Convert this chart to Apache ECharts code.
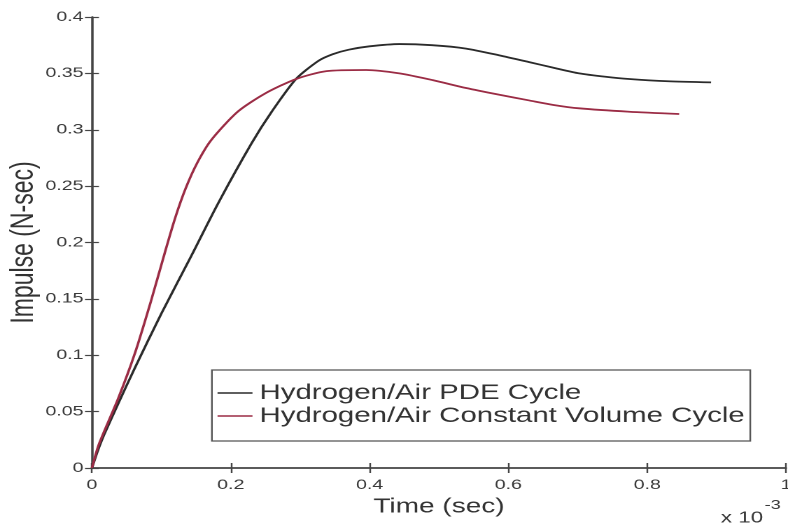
<!DOCTYPE html>
<html>
<head>
<meta charset="utf-8">
<script src="https://cdn.jsdelivr.net/npm/echarts@6/dist/echarts.min.js"></script>
<style>
  html, body { margin: 0; padding: 0; background: #ffffff; overflow: hidden; }
  #wrap { width: 788px; height: 527px; overflow: hidden; }
  #chart { width: 563px; height: 527px; transform: scaleX(1.3996); transform-origin: 0 0; }
</style>
</head>
<body>
<div id="wrap"><div id="chart"></div></div>
<script>
// Time in units of 1e-3 sec (axis multiplier shown as "x 10^-3")
const pdeTime    = [0, 0.010, 0.020, 0.040, 0.062, 0.100, 0.143, 0.182, 0.230, 0.259, 0.294, 0.326, 0.347, 0.370, 0.400, 0.443, 0.490, 0.539, 0.587, 0.630, 0.665, 0.702, 0.740, 0.774, 0.830, 0.892];
const pdeImpulse = [0, 0.018, 0.033, 0.060, 0.089, 0.137, 0.188, 0.235, 0.288, 0.316, 0.345, 0.361, 0.367, 0.371, 0.374, 0.376, 0.375, 0.372, 0.366, 0.360, 0.355, 0.350, 0.347, 0.345, 0.343, 0.342];

const cvTime     = [0, 0.010, 0.038, 0.062, 0.085, 0.105, 0.120, 0.135, 0.152, 0.172, 0.210, 0.249, 0.294, 0.338, 0.395, 0.443, 0.491, 0.539, 0.587, 0.630, 0.665, 0.702, 0.774, 0.846];
const cvImpulse  = [0, 0.021, 0.062, 0.102, 0.148, 0.191, 0.222, 0.248, 0.271, 0.291, 0.316, 0.332, 0.345, 0.352, 0.353, 0.350, 0.344, 0.337, 0.331, 0.326, 0.322, 0.319, 0.316, 0.314];

const seriesNames = ['Hydrogen/Air PDE Cycle', 'Hydrogen/Air Constant Volume Cycle'];
const xAxisTitle = 'Time (sec)';
const yAxisTitle = 'Impulse (N-sec)';
const xMultiplierBase = 'x 10';
const xMultiplierExp = '-3';

const FONT = 'Liberation Sans, Arial, Helvetica, sans-serif';
const AXIS_COLOR = '#454545';
const LABEL_COLOR = '#3a3a3a';

function pairs(xs, ys) { return xs.map((x, i) => [x, ys[i]]); }

const chart = echarts.init(document.getElementById('chart'), null, { devicePixelRatio: 2 });

const axisLine = { show: true, lineStyle: { color: AXIS_COLOR, width: 1.5 } };
const tick = { show: true, inside: true, length: 5, lineStyle: { color: AXIS_COLOR, width: 1.2 } };

const option = {
  backgroundColor: '#ffffff',
  animation: false,
  textStyle: { fontFamily: FONT },
  grid: { left: 65.7, right: 1.4, top: 17, bottom: 59, containLabel: false, outerBoundsMode: 'none' },
  legend: {
    data: seriesNames,
    orient: 'vertical',
    left: 151.4,
    top: 370,
    padding: [12, 4, 14, 4],
    itemGap: 1,
    itemWidth: 25,
    itemHeight: 1.6,
    icon: 'rect',
    borderColor: '#555555',
    borderWidth: 1.2,
    borderRadius: 0,
    backgroundColor: '#ffffff',
    textStyle: { fontSize: 21, color: '#333333', fontFamily: FONT, lineHeight: 22 }
  },
  xAxis: [
    {
      type: 'value', min: 0, max: 1, interval: 0.2, position: 'bottom',
      axisLine: axisLine, axisTick: tick, splitLine: { show: false },
      axisLabel: { fontSize: 14, color: LABEL_COLOR, margin: 10, fontFamily: FONT },
      name: xAxisTitle, nameLocation: 'middle', nameGap: 29, nameMoveOverlap: false,
      nameTextStyle: { fontSize: 20, color: '#333333', fontFamily: FONT }
    },
    {
      type: 'value', min: 0, max: 1, interval: 0.2, position: 'top',
      axisLine: axisLine, axisTick: tick, splitLine: { show: false },
      axisLabel: { show: false }
    }
  ],
  yAxis: [
    {
      type: 'value', min: 0, max: 0.4, interval: 0.05, position: 'left',
      axisLine: axisLine, axisTick: tick, splitLine: { show: false },
      axisLabel: { fontSize: 14, color: LABEL_COLOR, margin: 6, fontFamily: FONT },
      name: yAxisTitle, nameLocation: 'middle', nameGap: 37, nameMoveOverlap: false,
      nameTextStyle: { fontSize: 23, color: '#333333', fontFamily: FONT }
    },
    {
      type: 'value', min: 0, max: 0.4, interval: 0.05, position: 'right',
      axisLine: axisLine, axisTick: tick, splitLine: { show: false },
      axisLabel: { show: false }
    }
  ],
  series: [
    {
      name: seriesNames[0], type: 'line', xAxisIndex: 0, yAxisIndex: 0,
      data: pairs(pdeTime, pdeImpulse), smooth: 0.25, symbol: 'none',
      lineStyle: { color: '#2b2b2b', width: 1.8 }, itemStyle: { color: '#2b2b2b' }
    },
    {
      name: seriesNames[1], type: 'line', xAxisIndex: 0, yAxisIndex: 0,
      data: pairs(cvTime, cvImpulse), smooth: 0.25, symbol: 'none',
      lineStyle: { color: '#9b2c45', width: 1.8 }, itemStyle: { color: '#9b2c45' }
    }
  ],
  graphic: [
    {
      type: 'text', left: 515, top: 499,
      style: {
        text: '{a|' + xMultiplierBase + '}{b|' + xMultiplierExp + '}',
        rich: {
          a: { fontSize: 16, fontFamily: FONT, fill: '#3a3a3a', padding: [11, 0, 0, 0] },
          b: { fontSize: 13, fontFamily: FONT, fill: '#3a3a3a', verticalAlign: 'top', padding: [0, 0, 0, 1] }
        }
      }
    }
  ]
};

chart.setOption(option);
</script>
</body>
</html>
